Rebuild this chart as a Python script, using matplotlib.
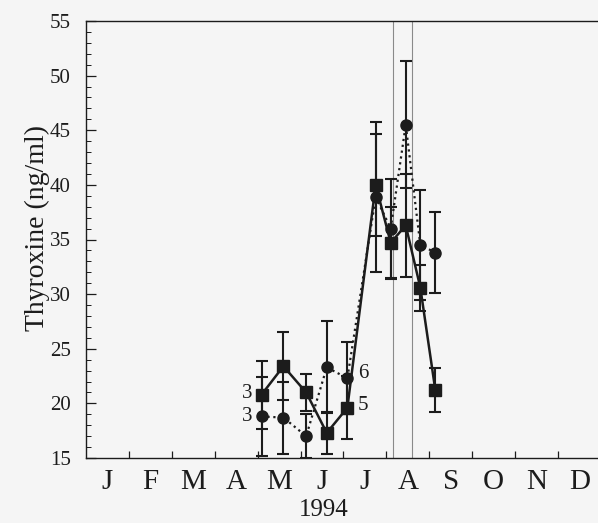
import numpy as np
import matplotlib
matplotlib.use("Agg")
from matplotlib import pyplot as plt
from matplotlib.ticker import MultipleLocator, FixedLocator, NullFormatter

# sampling dates, in months from 1 Jan
months_sq = [4.09, 4.60, 5.13, 5.61, 6.09, 6.75, 7.10, 7.45, 7.79, 8.14]
thyrox_sq = [20.8, 23.4, 21.0, 17.3, 19.6, 40.0, 34.7, 36.3, 30.6, 21.2]
err_sq = [3.1, 3.1, 1.7, 1.9, 2.9, 4.7, 3.3, 4.7, 2.1, 2.0]

months_ci = [4.09, 4.60, 5.13, 5.61, 6.09, 6.75, 7.10, 7.45, 7.79, 8.14]
thyrox_ci = [18.8, 18.7, 17.0, 23.3, 22.3, 38.9, 36.0, 45.5, 34.5, 33.8]
err_ci = [3.6, 3.3, 2.0, 4.2, 3.3, 6.9, 4.5, 5.8, 5.0, 3.7]

month_labels = ["J", "F", "M", "A", "M", "J", "J", "A", "S", "O", "N", "D"]
n_labels_sq = ("3", "5")
n_labels_ci = ("3", "6")

INK = "#1c1c1c"


def put_n(ax, text, x, y, dx, dy):
    ax.annotate(text, (x, y), xytext=(dx, dy), textcoords="offset points",
                ha="center", va="center", fontsize=15, color=INK)


def main():
    plt.rcParams['font.family'] = ['Liberation Serif', 'DejaVu Serif']

    fig = plt.figure(figsize=(5.98, 5.23), dpi=100, facecolor="#f5f5f5")
    ax = fig.add_axes([86 / 598, 1 - 458 / 523, 515 / 598, 437 / 523])
    ax.set_facecolor("#f5f5f5")

    # thin gray lines from the scan
    for xv in (7.16, 7.60):
        ax.axvline(xv, color="#8a8a8a", lw=0.8, zorder=0)

    # circles, dotted
    ax.errorbar(months_ci, thyrox_ci, yerr=err_ci, fmt="o", color=INK,
                ms=8, elinewidth=1.5, capsize=4.5, capthick=1.5, zorder=2)
    ax.plot(months_ci, thyrox_ci, ":", color=INK, lw=1.6, zorder=2)

    # squares, solid
    ax.errorbar(months_sq, thyrox_sq, yerr=err_sq, fmt="s", color=INK,
                ms=8, elinewidth=1.5, capsize=4.5, capthick=1.5, zorder=3)
    ax.plot(months_sq, thyrox_sq, "-", color=INK, lw=1.8, zorder=3)

    # sample sizes
    put_n(ax, n_labels_sq[0], months_sq[0], thyrox_sq[0], -10, 1)
    put_n(ax, n_labels_ci[0], months_ci[0], thyrox_ci[0], -10, 0)
    put_n(ax, n_labels_ci[1], months_ci[4], thyrox_ci[4], 11.5, 3.5)
    put_n(ax, n_labels_sq[1], months_sq[4], thyrox_sq[4], 11.5, 1.5)

    ax.set_xlim(0, 12)
    ax.set_ylim(15, 55)

    ax.xaxis.set_major_locator(FixedLocator(np.arange(1, 12)))
    ax.xaxis.set_major_formatter(NullFormatter())
    ax.xaxis.set_minor_locator(FixedLocator(np.arange(12) + 0.5))
    ax.set_xticklabels(month_labels, minor=True)
    ax.tick_params(axis="x", which="major", direction="in", length=5, width=0.9, color=INK)
    ax.tick_params(axis="x", which="minor", length=0, labelsize=21, pad=8, labelcolor=INK)

    ax.yaxis.set_major_locator(MultipleLocator(5))
    ax.yaxis.set_minor_locator(MultipleLocator(1))
    ax.tick_params(axis="y", which="major", direction="in", length=7, width=0.9,
                   labelsize=15, pad=11, color=INK, labelcolor=INK)
    ax.tick_params(axis="y", which="minor", direction="in", length=3.5, width=0.7, color=INK)

    for s in ax.spines.values():
        s.set_color(INK)
        s.set_linewidth(1.0)

    ax.set_xlabel("1994", fontsize=18, color=INK)
    ax.xaxis.set_label_coords(0.462, -0.094)
    ax.set_ylabel("Thyroxine (ng/ml)", fontsize=20, color=INK)
    ax.yaxis.set_label_coords(-0.07, 0.526)

    fig.savefig("out.png", dpi=100, facecolor=fig.get_facecolor())


if __name__ == "__main__":
    main()
